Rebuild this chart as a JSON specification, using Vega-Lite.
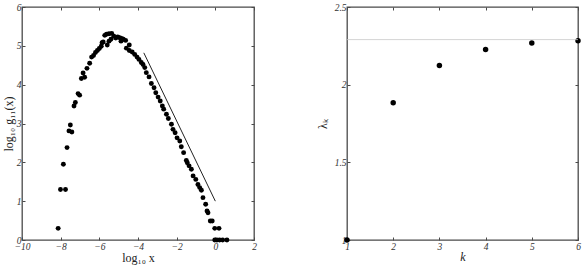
{
  "$schema": "https://vega.github.io/schema/vega-lite/v6.json",
  "padding": {"left": 1, "top": 1, "right": 0, "bottom": 0},
  "background": "white",
  "spacing": 93,
  "bounds": "flush",
  "config": {
    "view": {"stroke": "#4a4a4a", "strokeWidth": 1.3},
    "axis": {
      "domain": false, "grid": false, "tickColor": "#4a4a4a", "tickSize": 3, "offset": -3, "labelPadding": 1,
      "labelFlush": false, "labelOverlap": false, "labelBound": false,
      "labelFont": "Liberation Serif", "labelFontStyle": "italic", "labelFontSize": 9.5, "labelColor": "#333",
      "titleFont": "Liberation Serif", "titleFontWeight": "normal", "titleFontSize": 12, "titleColor": "#222"
    }
  },
  "hconcat": [
    {
      "width": 232, "height": 233,
      "layer": [
        {
          "data": {"values": [
            {"x": -8.13, "y": 0.30}, {"x": -8.01, "y": 1.30}, {"x": -7.75, "y": 1.30}, {"x": -7.86, "y": 1.95},
            {"x": -7.67, "y": 2.38}, {"x": -7.57, "y": 2.81}, {"x": -7.42, "y": 2.78}, {"x": -7.50, "y": 2.96},
            {"x": -7.31, "y": 3.45}, {"x": -7.24, "y": 3.54}, {"x": -7.10, "y": 3.77}, {"x": -7.02, "y": 3.73},
            {"x": -6.93, "y": 4.16}, {"x": -6.84, "y": 4.30}, {"x": -6.76, "y": 4.19}, {"x": -6.64, "y": 4.42},
            {"x": -6.50, "y": 4.55}, {"x": -6.40, "y": 4.71}, {"x": -6.30, "y": 4.75}, {"x": -6.20, "y": 4.83},
            {"x": -6.10, "y": 4.88}, {"x": -6.00, "y": 4.93}, {"x": -5.90, "y": 4.99}, {"x": -5.86, "y": 5.08},
            {"x": -5.80, "y": 5.10}, {"x": -5.72, "y": 5.27}, {"x": -5.63, "y": 5.30}, {"x": -5.50, "y": 5.31},
            {"x": -5.36, "y": 5.32}, {"x": -5.59, "y": 5.02}, {"x": -5.50, "y": 5.12}, {"x": -5.40, "y": 5.17},
            {"x": -5.25, "y": 5.25}, {"x": -5.15, "y": 5.20}, {"x": -5.05, "y": 5.23}, {"x": -4.95, "y": 5.21},
            {"x": -4.85, "y": 5.19}, {"x": -4.76, "y": 5.17}, {"x": -4.88, "y": 5.12}, {"x": -4.64, "y": 5.14},
            {"x": -4.45, "y": 5.02}, {"x": -4.60, "y": 4.94}, {"x": -4.45, "y": 4.88}, {"x": -4.30, "y": 4.84},
            {"x": -4.17, "y": 4.78}, {"x": -4.05, "y": 4.71}, {"x": -3.95, "y": 4.65}, {"x": -3.83, "y": 4.57},
            {"x": -3.74, "y": 4.52}, {"x": -3.65, "y": 4.44}, {"x": -3.57, "y": 4.31}, {"x": -3.43, "y": 4.20},
            {"x": -3.31, "y": 4.03}, {"x": -3.17, "y": 3.92}, {"x": -3.08, "y": 3.79}, {"x": -2.96, "y": 3.68},
            {"x": -2.85, "y": 3.58}, {"x": -2.74, "y": 3.45}, {"x": -2.67, "y": 3.37}, {"x": -2.53, "y": 3.24},
            {"x": -2.43, "y": 3.13}, {"x": -2.27, "y": 2.98}, {"x": -2.19, "y": 2.85}, {"x": -2.08, "y": 2.76},
            {"x": -1.98, "y": 2.63}, {"x": -1.84, "y": 2.55}, {"x": -1.76, "y": 2.40}, {"x": -1.64, "y": 2.25},
            {"x": -1.50, "y": 2.05}, {"x": -1.45, "y": 1.99}, {"x": -1.36, "y": 1.91}, {"x": -1.24, "y": 1.82},
            {"x": -1.15, "y": 1.65}, {"x": -1.01, "y": 1.56}, {"x": -0.90, "y": 1.43}, {"x": -0.81, "y": 1.35},
            {"x": -0.72, "y": 1.28}, {"x": -0.64, "y": 1.09}, {"x": -0.50, "y": 0.92}, {"x": -0.43, "y": 0.75},
            {"x": -0.38, "y": 0.70}, {"x": -0.26, "y": 0.49}, {"x": -0.16, "y": 0.49}, {"x": -0.03, "y": 0.30},
            {"x": 0.19, "y": 0.30}, {"x": -0.03, "y": 0.0}, {"x": 0.08, "y": 0.0}, {"x": 0.22, "y": 0.0},
            {"x": 0.38, "y": 0.0}, {"x": 0.60, "y": 0.0}
          ]},
          "mark": {"type": "point", "filled": true, "color": "black", "size": 24, "opacity": 1},
          "encoding": {
            "x": {"field": "x", "type": "quantitative", "scale": {"domain": [-10, 2], "nice": false, "zero": false},
                  "axis": {"values": [-10, -8, -6, -4, -2, 0, 2], "title": "log₁₀ x", "titlePadding": 2}},
            "y": {"field": "y", "type": "quantitative", "scale": {"domain": [0, 6], "nice": false},
                  "axis": {"values": [0, 1, 2, 3, 4, 5, 6], "title": "log₁₀ g₁₁(x)", "titlePadding": 1}}
          }
        },
        {
          "data": {"values": [{"x": -3.7, "y": 4.82}, {"x": 0.0, "y": 1.0}]},
          "mark": {"type": "line", "color": "#222", "strokeWidth": 1},
          "encoding": {
            "x": {"field": "x", "type": "quantitative", "axis": {"values": [-10, -8, -6, -4, -2, 0, 2], "labels": false, "title": null}},
            "y": {"field": "y", "type": "quantitative", "axis": {"values": [0, 1, 2, 3, 4, 5, 6], "labels": false, "title": null}}
          }
        }
      ],
      "resolve": {"axis": {"x": "independent", "y": "independent"}}
    },
    {
      "width": 231, "height": 233,
      "layer": [
        {
          "data": {"values": [
            {"k": 1, "l": 1.0}, {"k": 2, "l": 1.883}, {"k": 3, "l": 2.124}, {"k": 4, "l": 2.227}, {"k": 5, "l": 2.268}, {"k": 6, "l": 2.283}
          ]},
          "mark": {"type": "point", "filled": true, "color": "black", "size": 30, "opacity": 1},
          "encoding": {
            "x": {"field": "k", "type": "quantitative", "scale": {"domain": [1, 6], "nice": false, "zero": false},
                  "axis": {"values": [1, 2, 3, 4, 5, 6], "format": "~g", "title": "k", "titleFontStyle": "italic", "titlePadding": 1}},
            "y": {"field": "l", "type": "quantitative", "scale": {"domain": [1, 2.5], "nice": false, "zero": false},
                  "axis": {"values": [1, 1.5, 2, 2.5], "format": "~g", "title": "λₖ", "titlePadding": 5}}
          }
        },
        {
          "data": {"values": [{"v": 2.29, "k": 1}, {"v": 2.29, "k": 6}]},
          "mark": {"type": "line", "color": "#c8c8c8", "strokeWidth": 0.8},
          "encoding": {
            "x": {"field": "k", "type": "quantitative", "axis": {"values": [1, 2, 3, 4, 5, 6], "labels": false, "title": null}},
            "y": {"field": "v", "type": "quantitative", "axis": {"values": [1, 1.5, 2, 2.5], "labels": false, "title": null}}
          }
        }
      ],
      "resolve": {"axis": {"x": "independent", "y": "independent"}}
    }
  ]
}
